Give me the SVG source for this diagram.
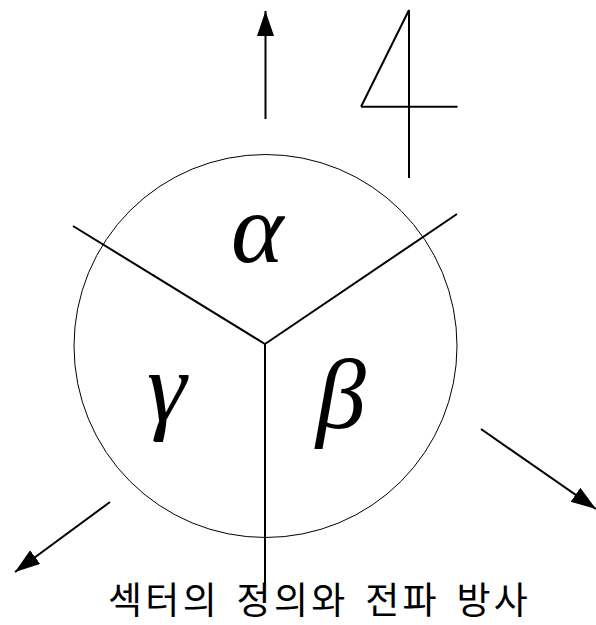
<svg xmlns="http://www.w3.org/2000/svg" width="596" height="625" viewBox="0 0 596 625">
<style>
.ln{stroke:#000;stroke-width:2;fill:none;stroke-linecap:butt}
.arr{stroke:#000;stroke-width:2;fill:none;marker-end:url(#ah)}
.gk{font-family:"Liberation Serif","DejaVu Serif",serif;font-style:italic;font-size:100px;fill:#000}
.cap{font-family:"Noto Sans CJK KR","Noto Sans",sans-serif;font-size:37px;letter-spacing:3.3px;word-spacing:5px;fill:#000}
</style>
<defs>
<marker id="ah" markerUnits="userSpaceOnUse" markerWidth="26" markerHeight="18" refX="25" refY="8.5" orient="auto">
<path d="M0,0 L25,8.5 L0,17 Z" fill="#000"/>
</marker>
</defs>
<rect width="596" height="625" fill="#fff"/>
<g id="circle">
<circle cx="265.5" cy="346" r="191.5" fill="none" stroke="#000" stroke-width="1"/>
</g>
<g id="sectors">
<line class="ln" x1="73" y1="226" x2="265" y2="344"/>
<line class="ln" x1="457" y1="214" x2="265" y2="344"/>
<line class="ln" x1="265" y1="344" x2="265" y2="585" stroke-width="1.6"/>
</g>
<g id="label-alpha"><text class="gk" x="231" y="262">α</text></g>
<g id="label-beta"><text class="gk" x="316" y="428">β</text></g>
<g id="label-gamma"><text class="gk" x="147" y="421">γ</text></g>
<g id="figure-4">
<line class="ln" x1="409" y1="10" x2="361" y2="106.7"/>
<line class="ln" x1="361" y1="106.7" x2="457.5" y2="106.7"/>
<line class="ln" x1="409" y1="10" x2="409" y2="178"/>
</g>
<g id="connectors">
<line class="arr" x1="265.5" y1="119" x2="265.5" y2="11"/>
<line class="arr" x1="481" y1="429" x2="596" y2="509"/>
<line class="arr" x1="110" y1="502" x2="15" y2="572"/>
</g>
<g id="caption"><text class="cap" x="108" y="614">섹터의 정의와 전파 방사</text></g>
</svg>
